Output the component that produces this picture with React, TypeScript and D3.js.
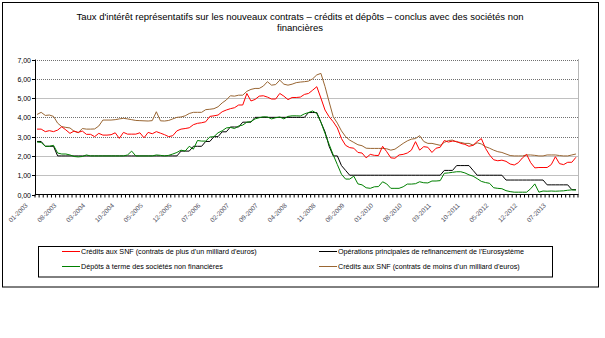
import React from "react";
import * as d3 from "d3";

const title1 = "Taux d'intérêt représentatifs sur les nouveaux contrats – crédits et dépôts – conclus avec des sociétés non";
const title2 = "financières";

const tickLabels = ["01-2003","08-2003","03-2004","10-2004","05-2005","12-2005","07-2006","02-2007","09-2007","04-2008","11-2008","06-2009","01-2010","08-2010","03-2011","10-2011","05-2012","12-2012","07-2013"];
const yTicks = [0, 1, 2, 3, 4, 5, 6, 7];

// monthly, 01-2003 .. 12-2013
const creditsPlus = [3.39,3.39,3.26,3.31,3.26,3.34,3.51,3.35,3.17,3.29,3.22,3.29,3.12,3.12,3.0,3.17,3.08,3.08,3.1,3.2,2.91,3.22,3.13,3.13,3.13,3.2,2.94,3.22,3.15,3.26,3.18,3.1,3.0,3.05,3.3,3.39,3.42,3.46,3.62,3.69,3.72,3.77,4.05,4.08,4.12,4.29,4.38,4.45,4.5,4.64,4.64,5.24,4.85,4.93,5.1,5.12,5.05,4.95,4.95,5.24,5.1,4.92,5.03,5.03,5.05,5.19,5.24,5.41,5.59,5.0,4.38,4.03,3.77,3.45,2.9,2.55,2.43,2.4,2.18,2.15,1.9,2.08,2.03,2.02,2.5,2.22,1.9,1.88,2.05,2.08,2.15,2.3,2.74,2.3,2.48,2.45,2.18,2.4,2.45,2.8,2.72,2.77,2.75,2.65,2.6,2.5,2.55,2.75,2.9,2.4,2.05,1.8,1.75,1.78,1.72,1.58,1.53,1.65,1.9,2.08,1.65,1.38,1.4,1.4,1.4,1.55,1.96,1.6,1.55,1.67,1.67,1.93];
const mro = [2.75,2.75,2.5,2.5,2.5,2.0,2.0,2.0,2.0,2.0,2.0,2.0,2.0,2.0,2.0,2.0,2.0,2.0,2.0,2.0,2.0,2.0,2.0,2.0,2.0,2.0,2.0,2.0,2.0,2.0,2.0,2.0,2.0,2.0,2.0,2.25,2.25,2.25,2.5,2.5,2.5,2.75,2.75,3.0,3.0,3.25,3.25,3.5,3.5,3.5,3.75,3.75,3.75,4.0,4.0,4.0,4.0,4.0,4.0,4.0,4.0,4.0,4.0,4.0,4.0,4.0,4.25,4.25,4.25,3.75,3.25,2.5,2.0,2.0,1.5,1.25,1.0,1.0,1.0,1.0,1.0,1.0,1.0,1.0,1.0,1.0,1.0,1.0,1.0,1.0,1.0,1.0,1.0,1.0,1.0,1.0,1.0,1.0,1.0,1.25,1.25,1.25,1.5,1.5,1.5,1.5,1.25,1.0,1.0,1.0,1.0,1.0,1.0,1.0,0.75,0.75,0.75,0.75,0.75,0.75,0.75,0.75,0.75,0.75,0.5,0.5,0.5,0.5,0.5,0.5,0.25,0.25];
const deposits = [2.72,2.7,2.5,2.5,2.55,2.15,2.1,2.1,2.05,1.97,1.95,1.97,2.05,2.0,2.0,2.0,2.0,2.0,2.0,2.0,2.0,2.0,2.05,2.25,2.0,2.0,2.0,2.0,2.0,2.05,2.03,2.0,2.03,2.1,2.18,2.3,2.25,2.5,2.35,2.8,2.77,2.77,2.98,3.0,3.2,3.3,3.45,3.48,3.42,3.55,3.6,3.75,3.78,3.92,3.98,4.03,4.02,3.92,3.98,4.02,3.92,4.05,4.08,4.08,4.07,4.18,4.25,4.33,4.2,3.75,3.17,2.6,2.05,1.55,1.05,0.8,0.8,0.95,0.55,0.5,0.35,0.32,0.4,0.41,0.66,0.55,0.32,0.32,0.32,0.4,0.54,0.54,0.56,0.66,0.61,0.6,0.7,0.7,0.72,1.1,1.12,1.15,1.18,1.18,1.12,1.02,0.95,0.82,0.68,0.62,0.58,0.35,0.32,0.3,0.2,0.15,0.12,0.12,0.12,0.12,0.3,0.55,0.12,0.18,0.17,0.18,0.17,0.18,0.19,0.22,0.24,0.23];
const creditsMoins = [4.15,4.26,4.1,4.12,4.05,3.7,3.52,3.48,3.45,3.28,3.2,3.42,3.39,3.39,3.4,3.55,3.86,3.86,3.86,3.88,3.92,3.95,3.92,3.88,3.84,3.83,3.82,3.81,3.83,4.29,3.82,3.81,3.84,3.92,4.0,4.02,4.08,4.2,4.26,4.26,4.26,4.4,4.42,4.45,4.55,4.75,4.9,5.12,5.1,5.15,5.15,5.35,5.45,5.5,5.5,5.62,5.85,5.67,5.7,5.93,5.72,5.67,5.72,5.8,5.83,5.85,5.88,6.0,6.2,6.28,5.6,4.8,4.03,3.7,3.3,3.0,2.82,2.7,2.58,2.53,2.4,2.39,2.39,2.39,2.39,2.37,2.3,2.35,2.5,2.65,2.78,2.87,2.9,3.05,2.75,2.65,2.65,2.6,2.55,2.7,2.8,2.82,2.72,2.7,2.65,2.65,2.56,2.68,2.62,2.48,2.4,2.3,2.22,2.18,2.1,2.02,2.0,2.0,2.0,2.05,2.05,2.03,2.0,2.0,2.05,2.05,2.05,2.02,2.0,2.0,2.05,2.1];

const legendLabels = [
  "Crédits aux SNF (contrats de plus d'un milliard d'euros)",
  "Opérations principales de refinancement de l'Eurosystème",
  "Dépôts à terme des sociétés non financières",
  "Crédits aux SNF (contrats de moins d'un milliard d'euros)",
];

const FONT = "'Liberation Sans', Arial, sans-serif";

export default function App() {
  const months = d3.timeMonth.range(new Date(2003, 0, 1), new Date(2014, 0, 1));
  const fmt = d3.timeFormat("%m-%Y");
  const keys = months.map((m) => fmt(m));
  const x = d3.scaleBand<string>().domain(keys).range([35, 578]);
  const bw = x.bandwidth();
  const y = d3.scaleLinear().domain([0, 7]).range([194.5, 59.5]);
  const cx = (i: number) => (x(keys[i]) as number) + bw / 2;

  const series = [
    { data: creditsPlus, color: "#ff0000", label: legendLabels[0] },
    { data: mro, color: "#000000", label: legendLabels[1] },
    { data: deposits, color: "#008000", label: legendLabels[2] },
    { data: creditsMoins, color: "#996633", label: legendLabels[3] },
  ];
  const drawOrder = [3, 0, 1, 2];

  const line = (data: number[]) =>
    d3.line<number>().x((_, i) => cx(i)).y((v) => y(v))(data) as string;

  const dotted = new Set([3, 4, 6, 7]);
  const legendPos = [
    { lx: 62, ty: 254 },
    { lx: 319, ty: 254 },
    { lx: 62, ty: 269 },
    { lx: 319, ty: 269 },
  ];

  return (
    <svg width={605} height={338} style={{ position: "absolute", left: 0, top: 0, fontFamily: FONT }}>
      <rect x={0} y={0} width={605} height={338} fill="#fff" />
      <rect x={2.5} y={2.5} width={596} height={284.5} fill="none" stroke="#000" strokeWidth={1} />
      <text x={300} y={20} textAnchor="middle" fontSize={9.5} fill="#000">{title1}</text>
      <text x={300} y={31} textAnchor="middle" fontSize={9.5} fill="#000">{title2}</text>

      {yTicks.filter((t) => t > 0).map((t) => (
        <line key={t} x1={35} x2={578} y1={Math.round(y(t)) + 0.5} y2={Math.round(y(t)) + 0.5}
          stroke={dotted.has(t) ? "#707070" : "#c0c0c0"} strokeWidth={1}
          strokeDasharray={dotted.has(t) ? "1,1" : undefined} />
      ))}
      <line x1={578.5} x2={578.5} y1={59.5} y2={194.5} stroke="#707070" strokeDasharray="1,1" />

      {drawOrder.map((k) => (
        <path key={k} d={line(series[k].data)} fill="none" stroke={series[k].color} strokeWidth={1} />
      ))}

      <line x1={35.5} x2={35.5} y1={59.5} y2={195} stroke="#000" />
      <line x1={35} x2={578.5} y1={194.5} y2={194.5} stroke="#000" />
      {yTicks.map((t) => (
        <g key={t}>
          <line x1={32} x2={35.5} y1={Math.round(y(t)) + 0.5} y2={Math.round(y(t)) + 0.5} stroke="#000" />
          <text x={31} y={Math.round(y(t)) + 3} textAnchor="end" fontSize={7} fill="#000">
            {d3.format(".2f")(t).replace(".", ",")}
          </text>
        </g>
      ))}
      {keys.map((k) => (
        <line key={k} x1={(x(k) as number)} x2={(x(k) as number)} y1={194.5} y2={197.5} stroke="#000" />
      ))}
      <line x1={578} x2={578} y1={194.5} y2={197.5} stroke="#000" />
      {tickLabels.map((lab) => {
        const i = keys.indexOf(lab);
        const px = cx(i);
        return (
          <text key={lab} transform={`translate(${px - 9},${206}) rotate(-45)`} textAnchor="end"
            fontSize={6.5} fill="#505060">{lab}</text>
        );
      })}

      <rect x={38.5} y={246.5} width={514} height={30.5} fill="none" stroke="#000" />
      {series.map((s, k) => (
        <g key={k}>
          <line x1={legendPos[k].lx} x2={legendPos[k].lx + 18} y1={legendPos[k].ty - 2.5}
            y2={legendPos[k].ty - 2.5} stroke={s.color} />
          <text x={legendPos[k].lx + 19} y={legendPos[k].ty} fontSize={7.2} fill="#000">{s.label}</text>
        </g>
      ))}
    </svg>
  );
}
